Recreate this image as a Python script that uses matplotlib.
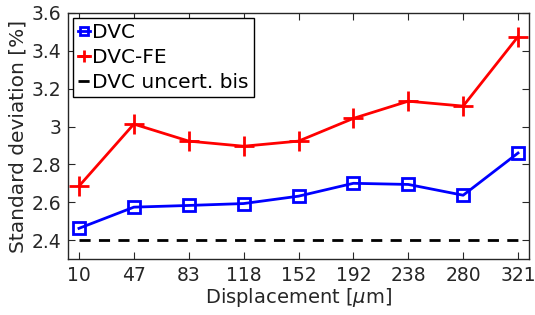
import matplotlib
matplotlib.use("Agg")
import matplotlib.pyplot as plt
import numpy as np

categories = ["10", "47", "83", "118", "152", "192", "238", "280", "321"]
dvc = [2.462, 2.574, 2.583, 2.593, 2.632, 2.700, 2.694, 2.637, 2.860]
dvc_fe = [2.685, 3.013, 2.923, 2.896, 2.923, 3.043, 3.134, 3.108, 3.475]
uncert_bias = 2.4

x = np.arange(1, len(categories) + 1)

fig = plt.figure(figsize=(5.35, 3.15), dpi=100)
ax = fig.add_axes([68/535, 1-259/315, (529-68)/535, (259-13)/315])

l1, = ax.plot(x, dvc, color="#0000ff", lw=2, marker="s", ms=9, mfc="none", mew=2, label="DVC")
l2, = ax.plot(x, dvc_fe, color="#ff0000", lw=2, marker="+", ms=15, mew=2, label="DVC-FE")
l3, = ax.plot([x[0], x[-1]], [uncert_bias, uncert_bias], color="black", lw=2, ls=(0, (4, 3)), label="DVC uncert. bis")

ax.set_xlim(0.8, 9.2)
ax.set_ylim(2.3, 3.6)
ax.set_xticks(x)
ax.set_xticklabels(categories)
yt = [2.4, 2.6, 2.8, 3.0, 3.2, 3.4, 3.6]
ax.set_yticks(yt)
ax.set_yticklabels(["2.4", "2.6", "2.8", "3", "3.2", "3.4", "3.6"])

col = "#262626"
for s in ax.spines.values():
    s.set_color(col)
    s.set_linewidth(1)
ax.tick_params(direction="in", top=True, right=True, length=5, width=0.8, color=col,
               labelsize=13.5, labelcolor=col, pad=5)
ax.set_xlabel("Displacement [$\\mu$m]", fontsize=14, color=col, labelpad=1)
ax.set_ylabel("Standard deviation [%]", fontsize=14.5, color=col, labelpad=3)

leg = ax.legend(loc="upper left", fontsize=14.5, handlelength=0.6, handletextpad=0.1,
                borderpad=0.25, labelspacing=0.3, borderaxespad=0.25, fancybox=False,
                framealpha=1, edgecolor="black", markerscale=0.6)
leg.get_frame().set_linewidth(1)
for t in leg.get_texts():
    t.set_color("black")

fig.savefig("out.png", dpi=100)
